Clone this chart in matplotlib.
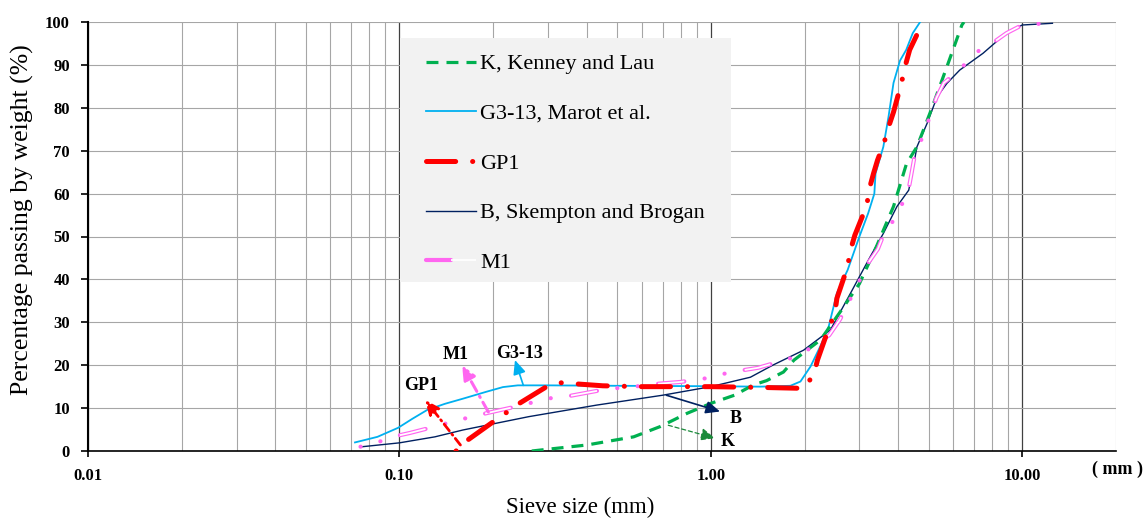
import numpy as np
import matplotlib
matplotlib.use('Agg')
import matplotlib.pyplot as plt
from matplotlib.lines import Line2D
from matplotlib.patches import Rectangle
from matplotlib.legend_handler import HandlerTuple
from matplotlib.ticker import FixedLocator, NullFormatter

plt.rcParams['font.family'] = 'serif'
plt.rcParams['font.serif'] = ['Liberation Serif', 'DejaVu Serif']
plt.rcParams['lines.scale_dashes'] = False

# grading curves: sieve size (mm) / percentage passing (%)
k_size = [0.266, 0.40, 0.565, 0.688, 0.84, 1.0, 1.19, 1.37, 1.51, 1.71, 1.85, 2.25, 2.63, 3.0,
          3.4, 3.86, 4.25, 4.59, 5.1, 5.73, 6.4, 6.5]
k_pass = [0, 1.4, 3.3, 5.7, 8.8, 11.1, 13.0, 15.4, 16.4, 18.4, 21.2, 25.9, 32.9, 39.0,
          47.6, 57.0, 67.0, 70.9, 79.5, 89.6, 99.3, 100]

g313_size = [0.072, 0.085, 0.099, 0.11, 0.123, 0.14, 0.16, 0.19, 0.215, 0.24, 0.3, 0.5, 1.0,
             1.44, 1.8, 1.94, 2.09, 2.25, 2.39, 2.54, 2.75, 3.0, 3.2, 3.35, 3.38, 3.58, 3.72,
             3.86, 4.05, 4.24, 4.45, 4.7]
g313_pass = [2.0, 3.3, 5.4, 7.5, 9.6, 11.0, 12.2, 13.8, 14.9, 15.3, 15.3, 15.2, 15.1,
             15.0, 15.2, 16.2, 19.7, 24.5, 29.0, 36.8, 42.2, 50.0, 55.4, 60.0, 64.7, 70.9, 77.9,
             85.8, 91.0, 93.5, 97.4, 100]

gp1_size = [0.152, 0.166, 0.2, 0.222, 0.244, 0.297, 0.33, 0.45, 0.6, 1.0, 1.5, 1.98, 2.14,
            2.2, 2.39, 2.5, 2.54, 2.75, 2.8, 2.9, 3.17, 3.22, 3.33, 3.43, 3.6, 3.7, 3.86,
            4.1, 4.2, 4.35, 4.8]
gp1_pass = [0, 2.6, 6.8, 9.1, 11.2, 15.0, 15.9, 15.2, 15.0, 15.0, 14.8, 14.6, 17.7,
            21.2, 28.6, 32.1, 35.6, 43.0, 46.5, 50.3, 57.3, 60.8, 64.7, 67.8, 71.8, 75.0, 79.0,
            86.0, 89.5, 93.5, 100]

b_size = [0.076, 0.1, 0.13, 0.16, 0.26, 0.43, 0.70, 1.0, 1.34, 1.58, 1.985, 2.42, 2.81, 3.25,
          3.58, 3.96, 4.32, 4.43, 4.59, 4.95, 5.33, 5.73, 6.3, 7.48, 8.88, 10.0, 12.5]
b_pass = [1.0, 1.9, 3.3, 4.9, 8.0, 10.7, 13.0, 15.0, 17.2, 20.0, 23.5, 28.2, 36.8, 45.3,
          50.7, 57.0, 60.8, 64.7, 70.9, 76.4, 82.6, 85.7, 88.8, 92.7, 97.4, 99.3, 99.7]

m1_size = [0.075, 0.085, 0.095, 0.108, 0.135, 0.153, 0.173, 0.19, 0.245, 0.27, 0.31, 0.35,
           0.43, 0.49, 0.56, 0.63, 0.8, 0.89, 1.0, 1.14, 1.42, 1.6, 1.8, 2.0, 2.4, 2.6, 2.75,
           2.9, 3.2, 3.44, 3.6, 3.9, 4.3, 4.4, 4.5, 4.7, 5.1, 5.3, 5.6, 6.1, 7.3, 8.1, 8.9,
           10.0, 12.5]
m1_pass = [1.0, 2.0, 3.3, 4.2, 6.0, 7.2, 8.0, 8.8, 10.6, 11.4, 12.4, 12.8,
           14.0, 14.6, 14.9, 15.5, 16.1, 16.6, 17.1, 18.3, 19.4, 20.5, 21.6, 23.1, 27.0, 30.7, 34.2,
           37.5, 43.8, 47.1, 50.7, 54.2, 60.4, 64.3, 68.3, 71.8, 78.8, 82.3, 85.8, 88.0, 93.5, 95.3, 97.4,
           99.3, 99.8]

labels = ['K, Kenney and Lau', 'G3-13, Marot et al.', 'GP1', 'B, Skempton and Brogan', 'M1']

c_k = '#00B050'
c_g = '#00B0F0'
c_gp = '#FF0000'
c_b = '#002060'
c_m = '#FF66F0'

# line patterns (points)
k_dash = (0, (8.6, 5.8))
gp_dash = (0, (21, 12.2, 0.1, 12.2))
m_dash = (0, (19, 14.7, 0.1, 14.7, 0.1, 14.7))
m_fill = (0, (19, 44.3))

fig = plt.figure(figsize=(11.46, 5.18), dpi=100)
ax = fig.add_axes([88 / 1146, 67 / 518, 1028 / 1146, 429 / 518])
ax.set_xscale('log')
ax.set_xlim(0.01, 20)
ax.set_ylim(0, 100)
ax.set_axisbelow(True)

ax.plot(b_size, b_pass, color=c_b, lw=1.0, zorder=3)
ax.plot(g313_size, g313_pass, color=c_g, lw=1.3, zorder=3)
ax.plot(k_size, k_pass, color=c_k, lw=2.3, linestyle=k_dash, zorder=4)
# M1: hollow dash + dots, a pink line with a white core on the dashes
ax.plot(m1_size, m1_pass, color=c_m, lw=3.0, linestyle=(33.7, m_dash[1]),
        dash_capstyle='round', zorder=5)
ax.plot(m1_size, m1_pass, color='white', lw=1.3, linestyle=(33.7, m_fill[1]),
        dash_capstyle='butt', zorder=5.1)
ax.plot(gp1_size, gp1_pass, color=c_gp, lw=3.6, linestyle=(0, (0.1, 12.2, 21, 12.2)),
        dash_capstyle='round', zorder=6)

# axes and grid
ax.spines['top'].set_visible(False)
ax.spines['right'].set_visible(False)
ax.spines['left'].set_linewidth(1.5)
ax.spines['bottom'].set_linewidth(1.2)

ax.xaxis.set_major_locator(FixedLocator([0.01, 0.1, 1, 10]))
ax.set_xticklabels(['0.01', '0.10', '1.00', '10.00'], fontweight='bold', fontsize=12)
minor = [m * d for d in [0.01, 0.1, 1] for m in range(2, 10)] + [20]
ax.xaxis.set_minor_locator(FixedLocator(minor))
ax.xaxis.set_minor_formatter(NullFormatter())
ax.set_yticks(np.arange(0, 101, 10))
ax.set_yticklabels([str(v) for v in range(0, 101, 10)], fontweight='bold', fontsize=12)
ax.tick_params(axis='x', which='major', direction='out', length=4, width=1.2, pad=8)
ax.tick_params(axis='x', which='minor', length=0)
ax.tick_params(axis='y', which='major', direction='out', length=5, width=1.2, pad=8)

ax.grid(which='minor', axis='x', color='#A6A6A6', lw=0.8)
ax.grid(which='major', axis='x', color='#404040', lw=0.9)
ax.grid(which='major', axis='y', color='#A6A6A6', lw=0.8)

# legend
ax.add_patch(Rectangle((0.3035, 0.394), 0.322, 0.5687, transform=ax.transAxes,
                       facecolor='#F2F2F2', edgecolor='none', zorder=1))
h_k = Line2D([], [], color=c_k, lw=2.3, linestyle=k_dash)
h_g = Line2D([], [], color=c_g, lw=1.3)
h_gp = Line2D([], [], color=c_gp, lw=3.6, linestyle=gp_dash, dash_capstyle='round')
h_b = Line2D([], [], color=c_b, lw=1.0)
h_m = (Line2D([], [], color=c_m, lw=3.0, linestyle=m_dash, dash_capstyle='round'),
       Line2D([], [], color='white', lw=1.3, linestyle=m_fill, dash_capstyle='butt'))
leg = ax.legend([h_k, h_g, h_gp, h_b, h_m], labels, loc='upper left',
                bbox_to_anchor=(0.3288, 0.926), frameon=False, fontsize=16,
                handlelength=2.25, handletextpad=0.2, labelspacing=1.31,
                borderpad=0, borderaxespad=0,
                handler_map={tuple: HandlerTuple(ndivide=None, pad=0)})
leg.set_zorder(7)

# curve labels with arrows
def tag(text, tail, head, pos, color, ls='-', lw=1.2):
    ax.annotate('', xy=head, xytext=tail,
                arrowprops=dict(arrowstyle='-|>,head_length=0.85,head_width=0.38',
                                mutation_scale=10, color=color, lw=lw, linestyle=ls,
                                shrinkA=0, shrinkB=0), zorder=8)
    ax.text(pos[0], pos[1], text, fontsize=13, fontweight='bold', ha='center', va='center',
            zorder=8)

tag('GP1', (0.157, 1.4), (0.121, 11.9), (0.117, 15.3), c_gp, ls=(0, (6, 3, 1, 3)), lw=2.0)
tag('M1', (0.193, 9.1), (0.159, 20.0), (0.151, 22.4), c_m, ls=(0, (8, 4, 1, 4)), lw=2.2)
tag('G3-13', (0.25, 15.3), (0.235, 21.2), (0.244, 22.8), c_g)
tag('B', (0.72, 13.0), (1.07, 9.2), (1.2, 7.6), c_b)
tag('K', (0.73, 6.0), (1.03, 3.0), (1.13, 2.2), '#1A8A3A', ls=(0, (3, 2)), lw=0.9)

fig.text(22 / 1146, 1 - 220 / 518, 'Percentage passing by weight (%)', rotation=90,
         ha='center', va='center', fontsize=18.5)
fig.text(580 / 1146, 1 - 507 / 518, 'Sieve size (mm)', ha='center', va='center', fontsize=16.5)
fig.text(1117 / 1146, 1 - 469 / 518, '( mm )', ha='center', va='center', fontsize=13,
         fontweight='bold')

fig.savefig('out.png', dpi=100)
